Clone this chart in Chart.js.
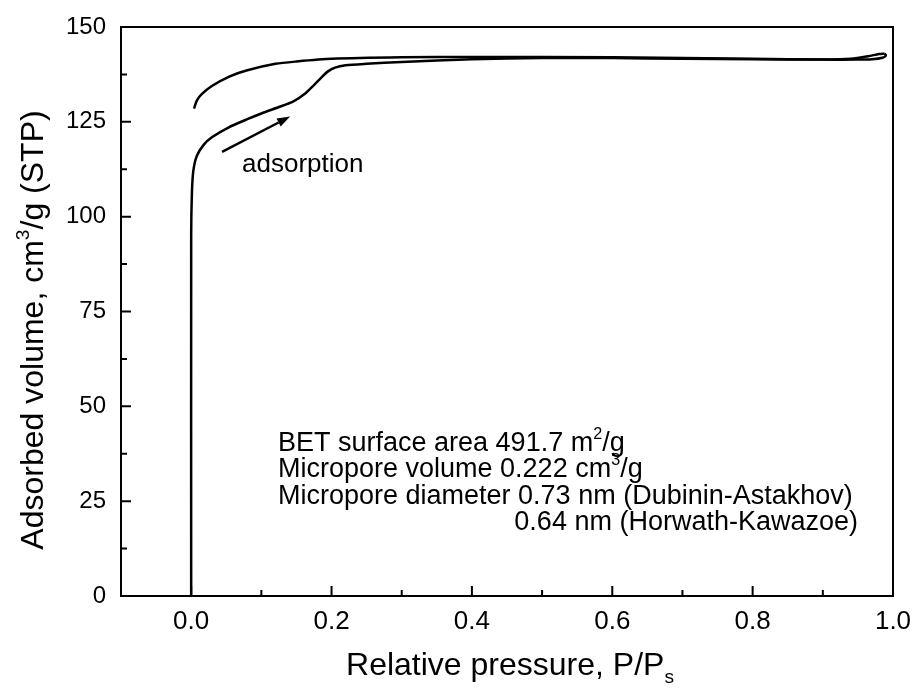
<!DOCTYPE html>
<html>
<head>
<meta charset="utf-8">
<script src="https://cdn.jsdelivr.net/npm/chart.js@4.4.1/dist/chart.umd.min.js"></script>
<style>
  html, body { margin: 0; padding: 0; background: #fff; }
  #wrap { width: 915px; height: 695px; }
</style>
</head>
<body>
<div id="wrap"><canvas id="isotherm"></canvas></div>
<script>
// N2 isotherm, adsorption branch (P/Ps, cm3/g STP)
const adsX = [0, 0, 0.001, 0.003, 0.008, 0.018, 0.03, 0.053, 0.08, 0.1, 0.125, 0.145, 0.162, 0.175, 0.185, 0.195, 0.205, 0.22, 0.25, 0.3, 0.4, 0.5, 0.6, 0.7, 0.8, 0.9, 0.94, 0.965, 0.98, 0.988];
const adsY = [0, 95, 106, 112, 116, 119, 121, 123.5, 125.7, 127.2, 128.9, 130.3, 132.4, 134.7, 136.6, 138.3, 139.3, 139.9, 140.3, 140.8, 141.5, 141.8, 141.8, 141.6, 141.5, 141.4, 141.6, 142.3, 142.9, 143.0];
// desorption branch, running back down from the top
const desX = [0.988, 0.99, 0.985, 0.97, 0.95, 0.9, 0.8, 0.6, 0.4, 0.3, 0.2, 0.15, 0.12, 0.08, 0.055, 0.03, 0.015, 0.008, 0.004];
const desY = [143.0, 142.5, 141.9, 141.5, 141.4, 141.4, 141.6, 142.0, 142.1, 142.0, 141.6, 140.9, 140.3, 138.6, 137.0, 134.5, 132.3, 130.6, 128.5];

const xTicks = [0.0, 0.2, 0.4, 0.6, 0.8, 1.0];
const xMinor = [0.1, 0.3, 0.5, 0.7, 0.9];
const yTicks = [0, 25, 50, 75, 100, 125, 150];
const yMinor = [12.5, 37.5, 62.5, 87.5, 112.5, 137.5];

const arrowFrom = [0.044, 117.1];
const arrowTo = [0.141, 126.4];

const FONT = "'Liberation Sans', Arial, Helvetica, sans-serif";

var docById = function (id) { return document.getElementById(id); };

function toPoints(xs, ys) {
  return xs.map((x, i) => ({ x: x, y: ys[i] }));
}

// text runs with superscript / subscript pieces: [text, '' | 'sup' | 'sub']
function richWidth(ctx, parts, size) {
  let w = 0;
  parts.forEach(p => {
    ctx.font = (p[1] ? size * 0.6 : size) + "px " + FONT;
    w += ctx.measureText(p[0]).width;
  });
  return w;
}

function drawRich(ctx, parts, x, y, size) {
  ctx.textBaseline = "alphabetic";
  ctx.textAlign = "left";
  parts.forEach(p => {
    let dy = 0;
    if (p[1] === 'sup') dy = -size * 0.45;
    if (p[1] === 'sub') dy = size * 0.25;
    ctx.font = (p[1] ? size * 0.6 : size) + "px " + FONT;
    ctx.fillText(p[0], x, y + dy);
    x += ctx.measureText(p[0]).width;
  });
}

// sample properties; the last line is right-aligned under the one above
const infoLines = [
  { x: 278, y: 451, align: "left", parts: [["BET surface area 491.7 m", ""], ["2", "sup"], ["/g", ""]] },
  { x: 278, y: 477, align: "left", parts: [["Micropore volume 0.222 cm", ""], ["3", "sup"], ["/g", ""]] },
  { x: 278, y: 504, align: "left", parts: [["Micropore diameter 0.73 nm (Dubinin-Astakhov)", ""]] },
  { x: 858, y: 530, align: "right", parts: [["0.64 nm (Horwath-Kawazoe)", ""]] }
];

const framePlugin = {
  id: 'frame',
  afterDatasetsDraw(chart) {
    const ctx = chart.ctx;
    const a = chart.chartArea;
    const xs = chart.scales.x, ys = chart.scales.y;
    ctx.save();
    ctx.strokeStyle = "#000";
    ctx.lineWidth = 2;
    ctx.strokeRect(a.left, a.top, a.right - a.left, a.bottom - a.top);

    // inward tick marks on bottom and left axes
    ctx.beginPath();
    xTicks.forEach(v => { const px = xs.getPixelForValue(v); ctx.moveTo(px, a.bottom); ctx.lineTo(px, a.bottom - 10); });
    xMinor.forEach(v => { const px = xs.getPixelForValue(v); ctx.moveTo(px, a.bottom); ctx.lineTo(px, a.bottom - 6); });
    yTicks.forEach(v => { const py = ys.getPixelForValue(v); ctx.moveTo(a.left, py); ctx.lineTo(a.left + 10, py); });
    yMinor.forEach(v => { const py = ys.getPixelForValue(v); ctx.moveTo(a.left, py); ctx.lineTo(a.left + 6, py); });
    ctx.stroke();

    // arrow along the adsorption branch
    const x0 = xs.getPixelForValue(arrowFrom[0]), y0 = ys.getPixelForValue(arrowFrom[1]);
    const x1 = xs.getPixelForValue(arrowTo[0]), y1 = ys.getPixelForValue(arrowTo[1]);
    const ang = Math.atan2(y1 - y0, x1 - x0);
    const hl = 13, hw = 4.5;
    const bx = x1 - hl * Math.cos(ang), by = y1 - hl * Math.sin(ang);
    ctx.lineWidth = 2.5;
    ctx.beginPath();
    ctx.moveTo(x0, y0);
    ctx.lineTo(bx, by);
    ctx.stroke();
    ctx.beginPath();
    ctx.moveTo(x1, y1);
    ctx.lineTo(bx + hw * Math.sin(ang), by - hw * Math.cos(ang));
    ctx.lineTo(bx - hw * Math.sin(ang), by + hw * Math.cos(ang));
    ctx.closePath();
    ctx.fillStyle = "#000";
    ctx.fill();

    ctx.font = "26px " + FONT;
    ctx.textAlign = "left";
    ctx.textBaseline = "alphabetic";
    ctx.fillText("adsorption", 242, 172);

    infoLines.forEach(l => {
      const w = richWidth(ctx, l.parts, 27);
      const x = l.align === "right" ? l.x - w : l.x;
      drawRich(ctx, l.parts, x, l.y, 27);
    });
    ctx.restore();
  },
  afterDraw(chart) {
    const ctx = chart.ctx;
    ctx.save();
    ctx.fillStyle = "#000";
    // x axis title
    const xt = [["Relative pressure, P/P", ""], ["s", "sub"]];
    const xw = richWidth(ctx, xt, 32);
    drawRich(ctx, xt, 510 - xw / 2, 675, 32);
    // y axis title, rotated
    const yt = [["Adsorbed volume, cm", ""], ["3", "sup"], ["/g (STP)", ""]];
    const yw = richWidth(ctx, yt, 32);
    ctx.translate(43, 330);
    ctx.rotate(-Math.PI / 2);
    drawRich(ctx, yt, -yw / 2, 0, 32);
    ctx.restore();
  }
};

const lineStyle = {
  showLine: true,
  borderColor: "#000",
  borderWidth: 2.5,
  pointRadius: 0,
  tension: 0.25,
  fill: false
};

new Chart(docById("isotherm").getContext("2d"), {
  type: "scatter",
  data: {
    datasets: [
      Object.assign({ label: "adsorption", data: toPoints(adsX, adsY) }, lineStyle),
      Object.assign({ label: "desorption", data: toPoints(desX, desY) }, lineStyle)
    ]
  },
  options: {
    responsive: true,
    maintainAspectRatio: false,
    animation: false,
    layout: { padding: { top: 27, right: 22, left: 0, bottom: 0 } },
    plugins: {
      legend: { display: false },
      tooltip: { enabled: false }
    },
    scales: {
      x: {
        type: "linear",
        min: -0.1,
        max: 1.0,
        afterBuildTicks: (scale) => { scale.ticks = xTicks.map(v => ({ value: v })); },
        afterFit: (scale) => {
          scale.height = 99;
          scale.paddingLeft = 0;
          scale.paddingRight = 0;
        },
        grid: { display: false, drawTicks: false },
        border: { display: false },
        ticks: {
          color: "#000",
          padding: 10,
          font: { family: FONT, size: 26 },
          callback: (v) => Number(v).toFixed(1)
        }
      },
      y: {
        type: "linear",
        min: 0,
        max: 150,
        afterBuildTicks: (scale) => { scale.ticks = yTicks.map(v => ({ value: v })); },
        afterFit: (scale) => {
          scale.width = 121;
          scale.paddingTop = 0;
          scale.paddingBottom = 0;
        },
        grid: { display: false, drawTicks: false },
        border: { display: false },
        ticks: {
          color: "#000",
          padding: 15,
          font: { family: FONT, size: 24 }
        }
      }
    }
  },
  plugins: [framePlugin]
});
</script>
</body>
</html>
